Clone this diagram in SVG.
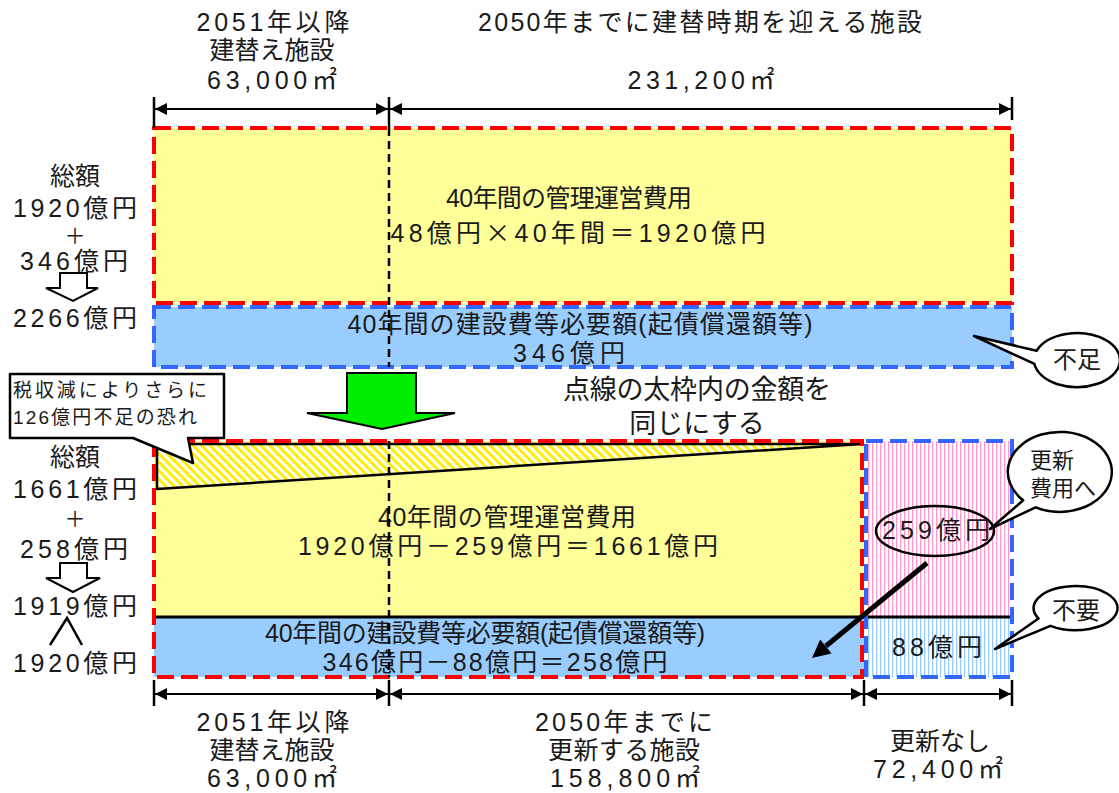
<svg xmlns="http://www.w3.org/2000/svg" width="1119" height="793" viewBox="0 0 1119 793">
<style>
.t{font-family:"Liberation Sans","Noto Sans CJK JP","Noto Sans",sans-serif;font-size:25px;fill:#1a1a1a;text-anchor:middle}
.j{font-family:"Noto Sans CJK JP",sans-serif}
.s{font-size:19px;text-anchor:start}
.red{fill:none;stroke:#ff0000;stroke-width:4;stroke-dasharray:17 7}
.blue{fill:none;stroke:#3366ff;stroke-width:4;stroke-dasharray:17 7}
.vd{stroke:#000;stroke-width:2.5;stroke-dasharray:8 5}
.dim{stroke:#000;stroke-width:2;marker-start:url(#ah);marker-end:url(#ah)}
.tick{stroke:#000;stroke-width:2.5}
.co{fill:#fff;stroke:#000;stroke-width:2.5;stroke-linejoin:round}
.ho{fill:#fff;stroke:#000;stroke-width:2}
</style>
<defs>
<marker id="ah" viewBox="0 0 10 10" refX="10" refY="5" markerWidth="14" markerHeight="12" markerUnits="userSpaceOnUse" orient="auto-start-reverse">
<path d="M0,0 L10,5 L0,10 z" fill="#000"/>
</marker>
<pattern id="hatch" patternUnits="userSpaceOnUse" width="6" height="6" patternTransform="rotate(-45)">
<rect width="6" height="6" fill="#ffffff"/>
<rect width="3" height="6" fill="#ffee00"/>
</pattern>
<pattern id="pink" patternUnits="userSpaceOnUse" width="4" height="4">
<rect width="4" height="4" fill="#ffffff"/>
<rect width="1.3" height="4" fill="#ff99cc"/>
</pattern>
<pattern id="lblue" patternUnits="userSpaceOnUse" width="4" height="4">
<rect width="4" height="4" fill="#ffffff"/>
<rect width="1.3" height="4" fill="#99ccff"/>
</pattern>
</defs>
<rect width="1119" height="793" fill="#ffffff"/>

<g id="top-labels">
<text class="t" x="273" y="31" textLength="153" lengthAdjust="spacing">2051年以降</text>
<text class="t" x="272" y="59" textLength="125" lengthAdjust="spacing">建替え施設</text>
<text class="t" x="272" y="89" textLength="130" lengthAdjust="spacing">63,000㎡</text>
<text class="t" x="700" y="31" textLength="444" lengthAdjust="spacing">2050年までに建替時期を迎える施設</text>
<text class="t" x="701" y="89" textLength="147" lengthAdjust="spacing">231,200㎡</text>
</g>

<g id="top-management">
<rect x="154" y="128" width="858" height="175" fill="#ffff99"/>
<rect class="red" x="154" y="128" width="858" height="175"/>
<text class="t" x="569" y="207" textLength="246" lengthAdjust="spacing">40年間の管理運営費用</text>
<text class="t" x="578" y="242" textLength="375" lengthAdjust="spacing">48億円<tspan class="j">×</tspan>40年間＝1920億円</text>
</g>

<g id="top-construction">
<rect x="154" y="307" width="858" height="60" fill="#99ccff"/>
<rect class="blue" x="154" y="307" width="858" height="60"/>
<text class="t" x="580" y="333" textLength="465" lengthAdjust="spacing">40年間の建設費等必要額(起債償還額等)</text>
<text class="t" x="569" y="362" textLength="112" lengthAdjust="spacing">346億円</text>
</g>

<g id="bottom-management">
<rect x="154" y="441" width="710" height="176" fill="#ffff99"/>
<polygon points="157,444 862,444 157,489" fill="url(#hatch)" stroke="#000" stroke-width="2.5" stroke-linejoin="round"/>
<text class="t" x="507" y="526" textLength="258" lengthAdjust="spacing">40年間の管理運営費用</text>
<text class="t" x="508" y="555" textLength="420" lengthAdjust="spacing">1920億円－259億円＝1661億円</text>
</g>

<g id="bottom-construction">
<rect x="154" y="617" width="710" height="60" fill="#99ccff"/>
<text class="t" x="485" y="642" textLength="440" lengthAdjust="spacing">40年間の建設費等必要額(起債償還額等)</text>
<text class="t" x="495" y="671" textLength="345" lengthAdjust="spacing">346億円－88億円＝258億円</text>
</g>

<g id="renewal">
<rect x="866" y="441" width="146" height="176" fill="url(#pink)"/>
<rect x="866" y="617" width="146" height="60" fill="url(#lblue)"/>
<ellipse cx="935" cy="531" rx="59" ry="25" fill="none" stroke="#000" stroke-width="2.5"/>
<text class="t" x="936" y="539" textLength="108" lengthAdjust="spacing">259億円</text>
<text class="t" x="937" y="656" textLength="90" lengthAdjust="spacing">88億円</text>
</g>

<g id="frames">
<line x1="154" y1="617" x2="1012" y2="617" stroke="#000" stroke-width="3"/>
<rect class="red" x="154" y="441" width="708" height="236"/>
<rect class="blue" x="866" y="441" width="146" height="236"/>
<line class="vd" x1="389" y1="128" x2="389" y2="367"/>
<line class="vd" x1="389" y1="441" x2="389" y2="677"/>
</g>

<g id="left-totals">
<text class="t" x="75" y="185">総額</text>
<text class="t" x="75" y="217" textLength="124" lengthAdjust="spacing">1920億円</text>
<text class="t" x="75" y="243" style="font-size:21px">＋</text>
<text class="t" x="74" y="270" textLength="108" lengthAdjust="spacing">346億円</text>
<polygon class="ho" points="60,273 87,273 87,288 98,288 73,301 46,288 60,288"/>
<text class="t" x="75" y="327" textLength="124" lengthAdjust="spacing">2266億円</text>

<text class="t" x="75" y="466">総額</text>
<text class="t" x="75" y="498" textLength="124" lengthAdjust="spacing">1661億円</text>
<text class="t" x="75" y="526" style="font-size:21px">＋</text>
<text class="t" x="74" y="558" textLength="108" lengthAdjust="spacing">258億円</text>
<polygon class="ho" points="60,563 87,563 87,578 100,578 73,592 46,578 60,578"/>
<text class="t" x="75" y="615" textLength="124" lengthAdjust="spacing">1919億円</text>
<polyline points="50,645 67,618 82,645" fill="none" stroke="#000" stroke-width="2.5"/>
<text class="t" x="75" y="672" textLength="124" lengthAdjust="spacing">1920億円</text>
</g>

<g id="equalize">
<polygon points="347,373 416,373 416,413 455,413 382,429 307,413 347,413" fill="#00ee00" stroke="#000" stroke-width="2" stroke-linejoin="miter"/>
<text class="t" x="697" y="399" style="font-size:27px" textLength="268" lengthAdjust="spacing">点線の太枠内の金額を</text>
<text class="t" x="697" y="433" style="font-size:27px">同じにする</text>
</g>

<g id="callout-tax">
<path class="co" d="M10,374 H224 V438 H188 L193,463 L133,438 H10 Z"/>
<text class="t s" x="13" y="397" textLength="194" lengthAdjust="spacing">税収減によりさらに</text>
<text class="t s" x="13" y="424" textLength="184" lengthAdjust="spacing">126億円不足の恐れ</text>
</g>

<g id="callout-shortage">
<path class="co" d="M974,336 L1036.6,350.8 A43,27 0 1 1 1034.4,363.8 Z"/>
<text class="t" x="1077" y="368" style="font-size:24px">不足</text>
</g>

<g id="callout-renewal">
<path class="co" d="M990,529 L1023.2,500.3 A52,40 0 1 1 1035.6,507.3 Z"/>
<text class="t s" x="1030" y="468" style="font-size:22px">更新</text>
<text class="t s" x="1030" y="496" style="font-size:22px">費用へ</text>
</g>

<g id="callout-unneeded">
<path class="co" d="M995,649 L1038.5,618.5 A42,22 0 1 1 1050.5,625.8 Z"/>
<text class="t" x="1076" y="619" style="font-size:24px">不要</text>
</g>

<g id="connectors">
<line class="tick" x1="154" y1="97" x2="154" y2="128"/>
<line class="tick" x1="389" y1="97" x2="389" y2="128"/>
<line class="tick" x1="1012" y1="97" x2="1012" y2="120"/>
<line class="dim" x1="155" y1="109" x2="388" y2="109"/>
<line class="dim" x1="390" y1="109" x2="1011" y2="109"/>
<line class="tick" x1="154" y1="680" x2="154" y2="706"/>
<line class="tick" x1="389" y1="680" x2="389" y2="706"/>
<line class="tick" x1="864" y1="680" x2="864" y2="706"/>
<line class="tick" x1="1012" y1="680" x2="1012" y2="706"/>
<line class="dim" x1="155" y1="694" x2="388" y2="694"/>
<line class="dim" x1="390" y1="694" x2="863" y2="694"/>
<line class="dim" x1="865" y1="694" x2="1011" y2="694"/>
<line x1="927" y1="563" x2="826" y2="646" stroke="#000" stroke-width="5"/>
<polygon points="812,658 831.6,653.4 820.2,639.6" fill="#000"/>
</g>

<g id="bottom-labels">
<text class="t" x="273" y="731" textLength="153" lengthAdjust="spacing">2051年以降</text>
<text class="t" x="272" y="759" textLength="125" lengthAdjust="spacing">建替え施設</text>
<text class="t" x="272" y="787" textLength="130" lengthAdjust="spacing">63,000㎡</text>
<text class="t" x="624" y="731" textLength="178" lengthAdjust="spacing">2050年までに</text>
<text class="t" x="624" y="759" textLength="152" lengthAdjust="spacing">更新する施設</text>
<text class="t" x="625" y="787" textLength="150" lengthAdjust="spacing">158,800㎡</text>
<text class="t" x="940" y="750" textLength="100" lengthAdjust="spacing">更新なし</text>
<text class="t" x="938" y="778" textLength="130" lengthAdjust="spacing">72,400㎡</text>
</g>
</svg>
